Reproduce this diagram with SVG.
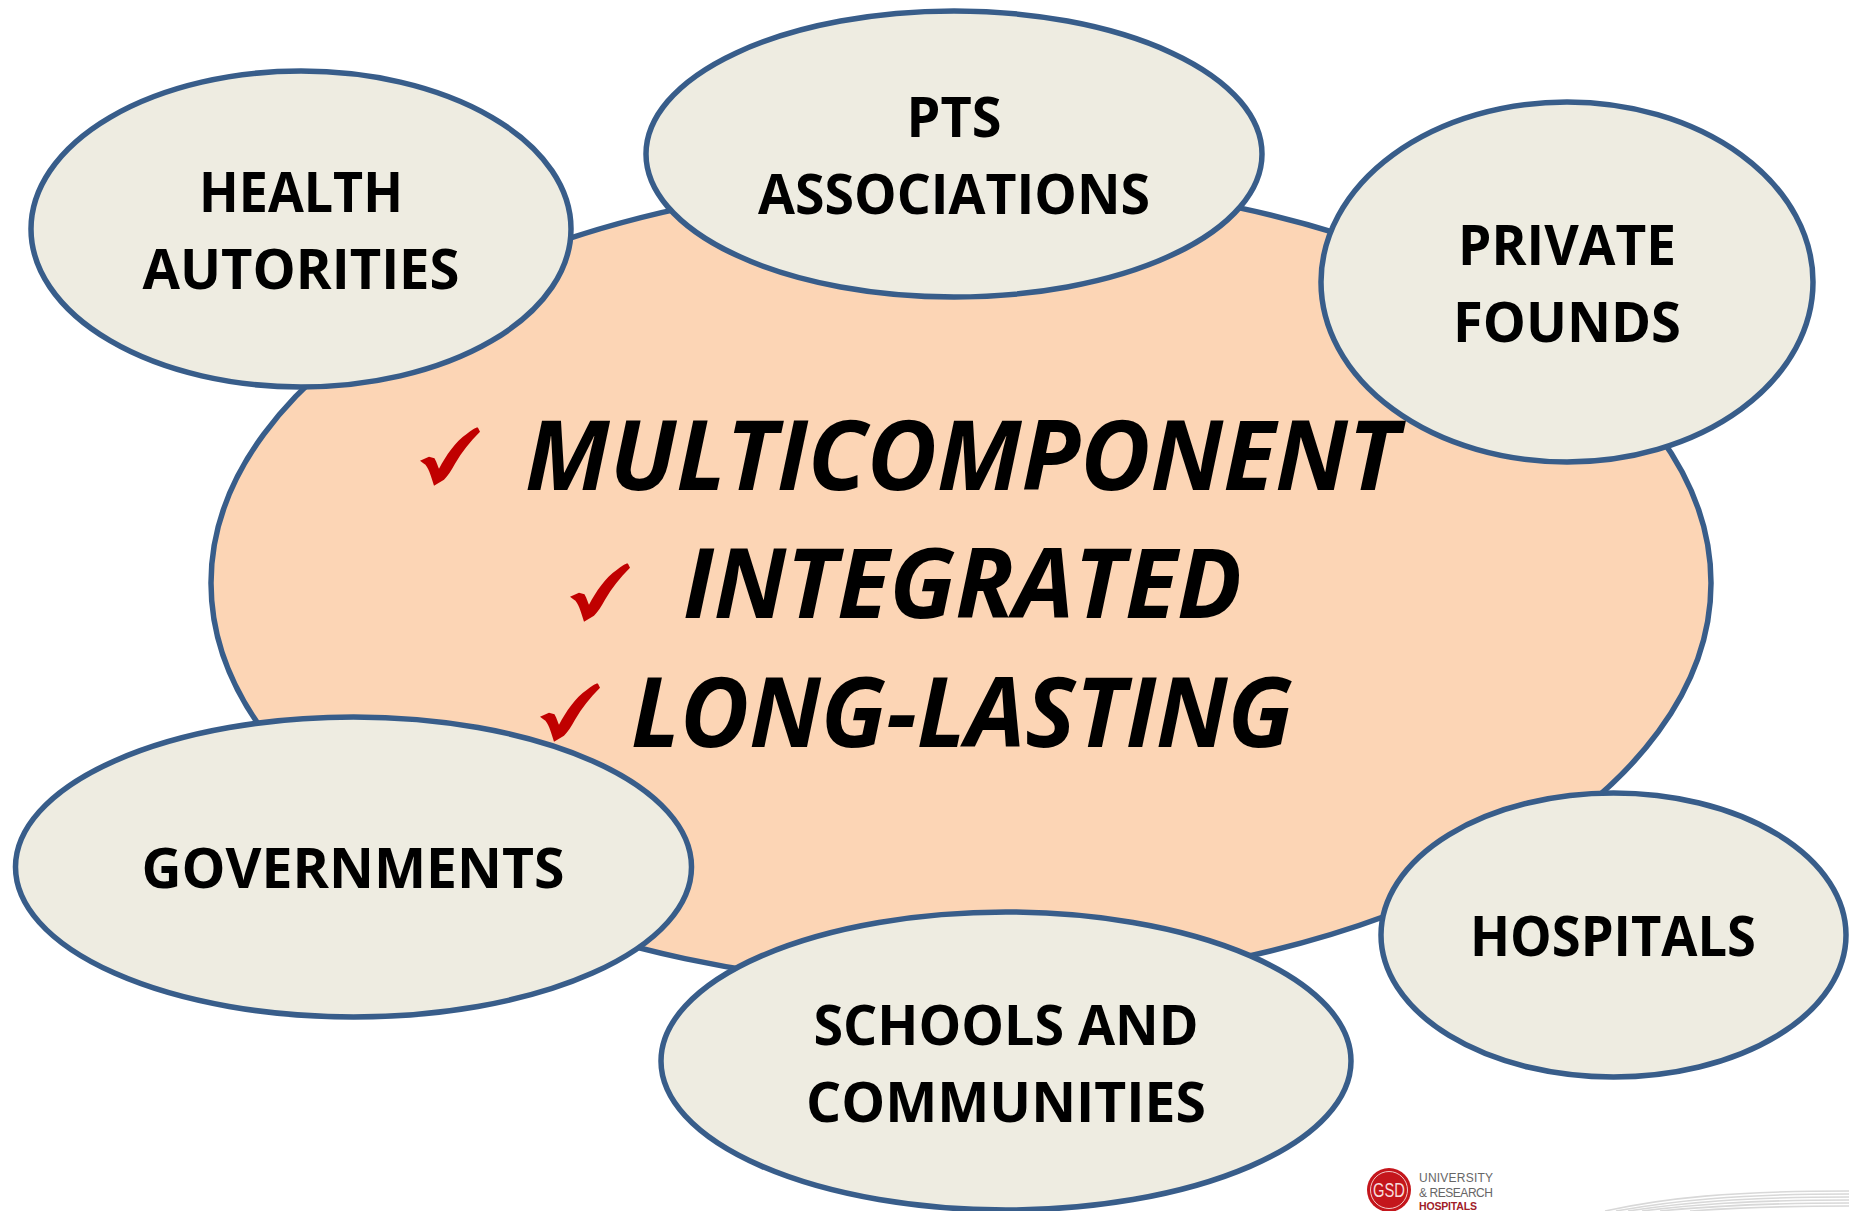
<svg xmlns="http://www.w3.org/2000/svg" width="1849" height="1211" viewBox="0 0 1849 1211">
<style>
.n{fill:#EEECE1;stroke:#385D8A;stroke-width:5.5}
.l{font-family:"Open Sans","Liberation Sans",sans-serif;font-weight:700;font-size:55px;fill:#000;text-anchor:middle}
.m{font-family:"Open Sans","Liberation Sans",sans-serif;font-weight:700;font-style:italic;font-size:96px;fill:#000}
.g{fill:none;stroke:#D8D8D8;stroke-width:1.6}
.u{font-family:"Liberation Sans",sans-serif;font-size:12px;fill:#666}
</style>
<defs>
<path id="tick" fill="#C00000" d="M0 0 L9 -4 L14.5 -2.5 C17 2 18 6 19 8 C26 -5 35 -19 47 -27 C52 -31 57 -34 58 -33 L60 -29 C50 -19 42 -9 35 3 C31 10 28 15 24 19 L14 25 C11 15 8 5 4 3 Z"/>
</defs>
<rect width="1849" height="1211" fill="#FFFFFF"/>
<g id="center">
<ellipse cx="961" cy="583" rx="750" ry="404" fill="#FCD5B5" stroke="#385D8A" stroke-width="5.5"/>
</g>
<g id="health"><ellipse class="n" cx="301" cy="229" rx="270" ry="158"/>
<text class="l" x="301" y="212" textLength="204" lengthAdjust="spacingAndGlyphs">HEALTH</text>
<text class="l" x="301" y="289" textLength="317" lengthAdjust="spacingAndGlyphs">AUTORITIES</text></g>
<g id="pts"><ellipse class="n" cx="954" cy="154" rx="308" ry="143"/>
<text class="l" x="954" y="137" textLength="95" lengthAdjust="spacingAndGlyphs">PTS</text>
<text class="l" x="954" y="214" textLength="392" lengthAdjust="spacingAndGlyphs">ASSOCIATIONS</text></g>
<g id="private"><ellipse class="n" cx="1567" cy="282" rx="246" ry="180"/>
<text class="l" x="1567" y="265" textLength="218" lengthAdjust="spacingAndGlyphs">PRIVATE</text>
<text class="l" x="1567" y="342" textLength="228" lengthAdjust="spacingAndGlyphs">FOUNDS</text></g>
<g id="governments"><ellipse class="n" cx="353.500" cy="867" rx="338" ry="150"/>
<text class="l" x="353" y="888" textLength="423" lengthAdjust="spacingAndGlyphs">GOVERNMENTS</text></g>
<g id="hospitals"><ellipse class="n" cx="1613.500" cy="935" rx="232.500" ry="142"/>
<text class="l" x="1613" y="956" textLength="286" lengthAdjust="spacingAndGlyphs">HOSPITALS</text></g>
<g id="schools"><ellipse class="n" cx="1006" cy="1061" rx="345" ry="149"/>
<text class="l" x="1006" y="1045" textLength="385" lengthAdjust="spacingAndGlyphs">SCHOOLS AND</text>
<text class="l" x="1006" y="1122" textLength="400" lengthAdjust="spacingAndGlyphs">COMMUNITIES</text></g>
<g id="main-text">
<text class="m" x="525" y="490" textLength="874" lengthAdjust="spacingAndGlyphs">MULTICOMPONENT</text>
<text class="m" x="683" y="618" textLength="559" lengthAdjust="spacingAndGlyphs">INTEGRATED</text>
<text class="m" x="631" y="747" textLength="662" lengthAdjust="spacingAndGlyphs">LONG-LASTING</text>
<use href="#tick" x="420" y="460.7"/>
<use href="#tick" x="570" y="596.7"/>
<use href="#tick" x="540" y="716.7"/>
</g>
<g id="logo">
<circle cx="1389" cy="1190" r="22" fill="#C4161C"/>
<circle cx="1389" cy="1190" r="18.5" fill="none" stroke="#F3C9C9" stroke-width="1"/>
<text x="1389" y="1197" text-anchor="middle" font-family="Liberation Sans,sans-serif" font-size="20" fill="#F6DCDC" textLength="32" lengthAdjust="spacingAndGlyphs">GSD</text>
<text class="u" x="1419" y="1182" textLength="74">UNIVERSITY</text>
<text class="u" x="1419" y="1197" textLength="74">&amp; RESEARCH</text>
<text x="1419" y="1210" font-family="Liberation Sans,sans-serif" font-size="10.5" font-weight="700" fill="#A02028" textLength="58">HOSPITALS</text>
</g>
<g id="swoosh">
<path class="g" d="M1605 1211 C1665 1198 1730 1191 1849 1191"/>
<path class="g" d="M1616 1211 C1672 1201 1735 1194 1849 1194"/>
<path class="g" d="M1628 1211 C1682 1203 1740 1197 1849 1197"/>
<path class="g" d="M1642 1211 C1690 1205 1745 1200 1849 1200"/>
<path class="g" d="M1660 1211 C1700 1207 1750 1203 1849 1203"/>
<path class="g" d="M1690 1211 C1720 1209 1760 1206 1849 1206"/>
</g>
</svg>
